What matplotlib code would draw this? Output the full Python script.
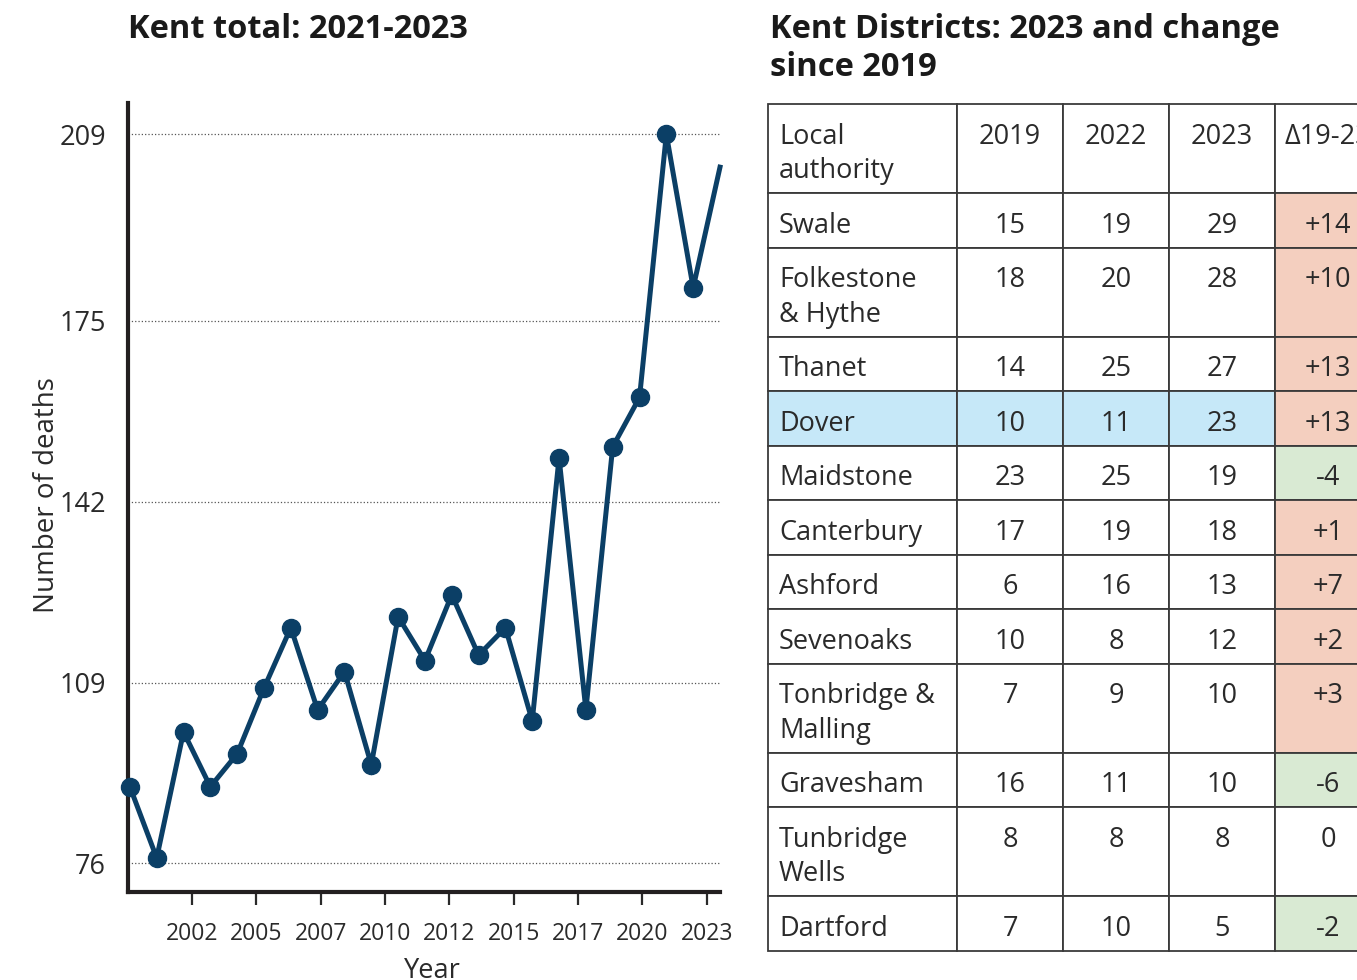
import matplotlib
matplotlib.use("Agg")
import matplotlib.pyplot as plt
from matplotlib.patches import Rectangle

plt.rcParams['font.family'] = ['Open Sans', 'DejaVu Sans']

# ---- data: left chart ----
years = [2001, 2002, 2003, 2004, 2005, 2006, 2007, 2008, 2009, 2010, 2011, 2012,
         2013, 2014, 2015, 2016, 2017, 2018, 2019, 2020, 2021, 2022, 2023]
deaths = [90, 77, 100, 90, 96, 108, 119, 104, 111, 94, 121, 113,
          125, 114, 119, 102, 150, 104, 152, 161, 209, 181, 203]
y_ticks = [76, 109, 142, 175, 209]
x_tick_labels = ['2002', '2005', '2007', '2010', '2012', '2015', '2017', '2020', '2023']

# ---- data: right table ----
districts = ['Swale', 'Folkestone\n& Hythe', 'Thanet', 'Dover', 'Maidstone', 'Canterbury',
             'Ashford', 'Sevenoaks', 'Tonbridge &\nMalling', 'Gravesham',
             'Tunbridge\nWells', 'Dartford']
d2019 = [15, 18, 14, 10, 23, 17, 6, 10, 7, 16, 8, 7]
d2022 = [19, 20, 25, 11, 25, 19, 16, 8, 9, 11, 8, 10]
d2023 = [29, 28, 27, 23, 19, 18, 13, 12, 10, 10, 8, 5]
header = ['Local\nauthority', '2019', '2022', '2023', '\u039419-23']
highlight = 'Dover'

W, H = 1357, 980
NAVY = '#0b3f66'
INK = '#2a2a2a'

fig = plt.figure(figsize=(W / 100, H / 100), dpi=100)

# ---------------- line chart ----------------
ax = fig.add_axes([128 / W, (H - 892) / H, (720 - 128) / W, (892 - 103) / H])
ax.plot(years, deaths, color=NAVY, lw=3.6, marker='o', markersize=13,
        markevery=list(range(len(years) - 1)), solid_joinstyle='miter', clip_on=False, zorder=3)
ax.set_xlim(2000.93, 2023.0)
ax.set_ylim(70.8, 214.7)

ax.set_yticks(y_ticks)
ax.set_yticklabels([str(v) for v in y_ticks])
step = 2.4
ax.set_xticks([2003.31 + i * step for i in range(len(x_tick_labels))])
ax.set_xticklabels(x_tick_labels)
ax.tick_params(axis='y', length=0, pad=16, labelsize=19.5, labelcolor=INK)
ax.tick_params(axis='x', length=9.5, width=1.6, color=INK, pad=12, labelsize=16.5, labelcolor=INK)
ax.grid(axis='y', linestyle=':', color='#555555', lw=0.9)
ax.set_axisbelow(True)

for s in ['top', 'right']:
    ax.spines[s].set_visible(False)
for s in ['left', 'bottom']:
    ax.spines[s].set_linewidth(3)
    ax.spines[s].set_color('#231f20')

ax.set_ylabel('Number of deaths', fontsize=20, color=INK)
ax.yaxis.set_label_coords(-0.113, 0.503)
ax.set_xlabel('Year', fontsize=19.5, color=INK)
ax.xaxis.set_label_coords(0.514, -0.083)

fig.text(128 / W, 1 - 29 / H, 'Kent total: 2021-2023', fontsize=23.5, fontweight='bold',
         color='#1a1a1a', va='center', ha='left')
fig.text(770 / W, 1 - 29 / H, 'Kent Districts: 2023 and change', fontsize=23.5,
         fontweight='bold', color='#1a1a1a', va='center', ha='left')
fig.text(770 / W, 1 - 67 / H, 'since 2019', fontsize=23.5,
         fontweight='bold', color='#1a1a1a', va='center', ha='left')

# ---------------- table ----------------
col_w = [189, 106, 106, 106, 106]
row_single = 54.5
line_gap = 34.5
tab_w = sum(col_w)
tab_h = 89 + sum(row_single + line_gap * n.count('\n') for n in districts)

tax = fig.add_axes([768 / W, (H - 104 - tab_h) / H, tab_w / W, tab_h / H])
tax.set_xlim(0, tab_w)
tax.set_ylim(tab_h, 0)
tax.axis('off')

SALMON = '#f4cfbf'
GREEN = '#d9ead3'
BLUE = '#c6e8f8'
EDGE = '#3a3a3a'


def draw_cell(x, y, w, h, text, color, align):
    tax.add_patch(Rectangle((x, y), w, h, facecolor=color, edgecolor=EDGE, lw=1.3,
                            clip_on=False))
    for i, line in enumerate(text.split('\n')):
        tx = x + 11 if align == 'left' else x + w / 2
        tax.text(tx, y + 32.5 + i * line_gap, line, ha=align, va='center',
                 fontsize=19.5, color=INK, clip_on=False)


rows = [header]
for name, a, b, c in zip(districts, d2019, d2022, d2023):
    ch = c - a
    ch_txt = f'+{ch}' if ch > 0 else str(ch)
    rows.append([name, str(a), str(b), str(c), ch_txt])

y = 0
for r, row in enumerate(rows):
    h = row_single + line_gap * row[0].count('\n') if r > 0 else 89
    x = 0
    for c, txt in enumerate(row):
        color = 'white'
        if r > 0:
            if c < 4 and row[0] == highlight:
                color = BLUE
            if c == 4:
                val = d2023[r - 1] - d2019[r - 1]
                color = SALMON if val > 0 else (GREEN if val < 0 else 'white')
        draw_cell(x, y, col_w[c], h, txt, color, 'left' if c == 0 else 'center')
        x += col_w[c]
    y += h

fig.savefig('out.png', dpi=100)
